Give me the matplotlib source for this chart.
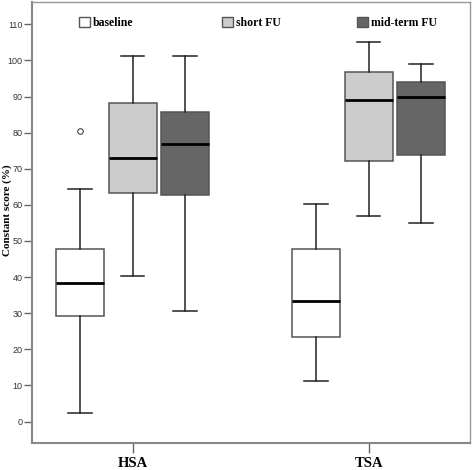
import numpy as np
import matplotlib
matplotlib.use('Agg')
import matplotlib.pyplot as plt
from matplotlib.patches import Patch
from matplotlib.legend import Legend

# values (Constant score, %)
groups = ['HSA', 'TSA']
series = ['baseline', 'short FU', 'mid-term FU']
colors = ['#ffffff', '#cccccc', '#666666']

# per group, per series: low whisker, Q1, median, Q3, high whisker
whislo = [[2.5, 40.3, 30.6], [11.1, 57.0, 55.1]]
q1 = [[29.1, 63.4, 62.7], [23.5, 72.2, 73.7]]
med = [[38.4, 72.9, 76.9], [33.4, 89.0, 89.8]]
q3 = [[47.8, 88.3, 85.8], [47.8, 96.8, 94.0]]
whishi = [[64.3, 101.2, 101.2], [60.2, 105.0, 98.9]]
fliers = [[[80.5], [], []], [[], [], []]]

fig = plt.figure(figsize=(4.72, 4.70), dpi=100)
ax = fig.add_axes([0.068, 0.057, 0.928, 0.939])

offsets = [-0.2226, 0.0, 0.2226]
for g in range(len(groups)):
    for s in range(len(series)):
        st = [dict(whislo=whislo[g][s], q1=q1[g][s], med=med[g][s], q3=q3[g][s],
                   whishi=whishi[g][s], fliers=fliers[g][s])]
        ax.bxp(st, positions=[g + 1 + offsets[s]], widths=0.203, capwidths=0.1,
               patch_artist=True, showfliers=True,
               boxprops=dict(facecolor=colors[s], edgecolor='#555555', linewidth=1.1),
               whiskerprops=dict(color='#222222', linewidth=1.1),
               capprops=dict(color='#222222', linewidth=1.1),
               medianprops=dict(color='black', linewidth=2),
               flierprops=dict(marker='o', markersize=4, markerfacecolor='white',
                               markeredgecolor='#444444', markeredgewidth=0.8))

ax.set_xlim(0.574, 2.43)
ax.set_ylim(-6, 116.2)
ax.set_xticks([1, 2])
ax.set_xticklabels(groups, fontsize=10.5, fontweight='bold', family='Liberation Serif')
ax.set_yticks(np.arange(0, 111, 10))
ax.set_yticklabels([str(v) for v in range(0, 111, 10)], fontsize=6.5, color='#333333',
                   family=['Liberation Sans Narrow', 'Liberation Sans'])
ax.tick_params(axis='y', length=6, width=1, color='#666666', pad=1)
ax.tick_params(axis='x', length=7, width=1, color='#666666', pad=3)
ax.set_ylabel('Constant score (%)', fontsize=8, fontweight='bold', family='Liberation Serif')
ax.yaxis.set_label_coords(-0.045, 0.528)
for side in ['top', 'right']:
    ax.spines[side].set_color('#999999')
    ax.spines[side].set_linewidth(1)
for side in ['left', 'bottom']:
    ax.spines[side].set_color('#888888')
    ax.spines[side].set_linewidth(1.5)

# legend entries placed one by one, as in the original layout
leg_x = [0.107, 0.434, 0.742]
for s in range(len(series)):
    h = Patch(facecolor=colors[s], edgecolor='#555555', linewidth=1)
    leg = Legend(ax, [h], [series[s]], loc='upper left', bbox_to_anchor=(leg_x[s], 0.966),
                 frameon=False, borderpad=0, borderaxespad=0, handlelength=0.9,
                 handleheight=0.9, handletextpad=0.25,
                 prop=dict(family='Liberation Serif', weight='bold', size=8.5))
    ax.add_artist(leg)

fig.savefig('out.png', dpi=100)
